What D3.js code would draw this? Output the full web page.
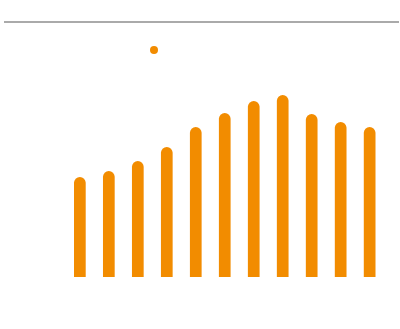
<!DOCTYPE html>
<html>
<head>
<meta charset="utf-8">
<script src="https://cdn.jsdelivr.net/npm/d3@7"></script>
<style>
  html, body { margin: 0; padding: 0; background: #fff; }
  svg { display: block; }
</style>
</head>
<body>
<svg id="chart" width="400" height="329"></svg>
<script>
const categories = ["1", "2", "3", "4", "5", "6", "7", "8", "9", "10", "11"];
const values = [100, 106, 116, 130, 150, 164, 176, 182, 163, 155, 150];
const legendItems = ["Series"];

const W = 400, H = 329;
const color = "#F28C00";
const svg = d3.select("#chart");

const x = d3.scaleBand()
  .domain(categories)
  .range([74, 375.5])
  .paddingInner(0.596)
  .paddingOuter(0);

const y = d3.scaleLinear()
  .domain([0, 200])
  .range([277, 77]);

// top rule
svg.append("line")
  .attr("x1", 4).attr("x2", 399)
  .attr("y1", 22).attr("y2", 22)
  .attr("stroke", "#aaaaaa")
  .attr("stroke-width", 2);

// legend marker
svg.selectAll("circle.legend")
  .data(legendItems)
  .join("circle")
  .attr("class", "legend")
  .attr("cx", 154)
  .attr("cy", 50)
  .attr("r", 4)
  .attr("fill", color);

// bars with rounded tops
function barPath(d, i) {
  const cat = categories[i];
  const x0 = x(cat), w = x.bandwidth(), r = w / 2;
  const y0 = y(0), y1 = y(d);
  return `M${x0},${y0} L${x0},${y1 + r} A${r},${r} 0 0 1 ${x0 + w},${y1 + r} L${x0 + w},${y0} Z`;
}

svg.selectAll("path.bar")
  .data(values)
  .join("path")
  .attr("class", "bar")
  .attr("d", barPath)
  .attr("fill", color);
</script>
</body>
</html>
